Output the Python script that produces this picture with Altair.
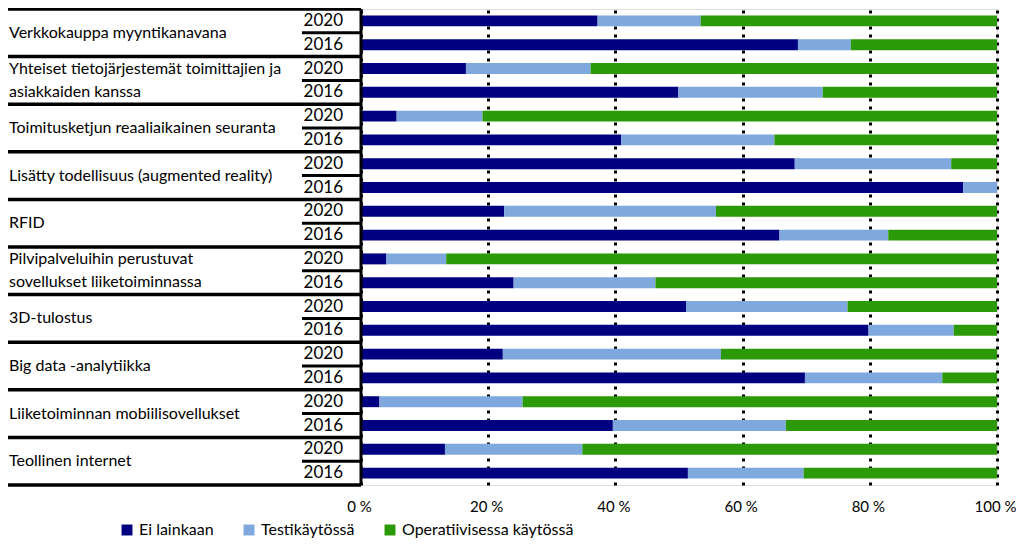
import altair as alt
import pandas as pd

categories = [
    ["Verkkokauppa myyntikanavana"],
    ["Yhteiset tietojärjestemät toimittajien ja", "asiakkaiden kanssa"],
    ["Toimitusketjun reaaliaikainen seuranta"],
    ["Lisätty todellisuus (augmented reality)"],
    ["RFID"],
    ["Pilvipalveluihin perustuvat", "sovellukset liiketoiminnassa"],
    ["3D-tulostus"],
    ["Big data -analytiikka"],
    ["Liiketoiminnan mobiilisovellukset"],
    ["Teollinen internet"],
]
years = ["2020", "2016"]
series = ["Ei lainkaan", "Testikäytössä", "Operatiivisessa käytössä"]
colors = ["#000080", "#7FA8DE", "#2C9A08"]

# values in %, rows in order: cat1 2020, cat1 2016, cat2 2020, ...
ei = [37.2, 68.7, 16.5, 49.9, 5.6, 40.9, 68.2, 94.7, 22.5, 65.8,
      4.0, 24.0, 51.1, 79.8, 22.3, 69.8, 2.9, 39.6, 13.2, 51.4]
testi = [16.2, 8.3, 19.6, 22.7, 13.5, 24.1, 24.6, 5.3, 33.3, 17.1,
         9.4, 22.3, 25.4, 13.4, 34.3, 21.6, 22.5, 27.2, 21.6, 18.2]
oper = [46.6, 23.0, 63.9, 27.4, 80.9, 35.0, 7.2, 0.0, 44.2, 17.1,
        86.6, 53.7, 23.5, 6.8, 43.4, 8.6, 74.6, 33.2, 65.2, 30.4]
x_ticks = [0, 20, 40, 60, 80, 100]

FONT = "Lato"

# ---- bar data
keys = []
rows = []
for ci in range(len(categories)):
    for yi, yr in enumerate(years):
        r = ci * 2 + yi
        key = f"{ci}-{yr}"
        keys.append(key)
        for si, (s, vals) in enumerate(zip(series, [ei, testi, oper])):
            rows.append({"key": key, "status": s, "order": si, "value": vals[r]})
bars_df = pd.DataFrame(rows)

bars = alt.Chart(bars_df).mark_bar().encode(
    x=alt.X("value:Q", stack="zero",
            scale=alt.Scale(domain=[0, 100], nice=False),
            axis=alt.Axis(values=x_ticks, labelExpr="datum.value + ' %'", title=None,
                          domain=False, ticks=False, grid=True, gridColor="black",
                          gridDash=[3, 5], gridWidth=3, gridOpacity=1,
                          labelFont=FONT, labelFontSize=15, labelColor="black",
                          labelFlush=False, labelPadding=14, labelOffset=-2)),
    y=alt.Y("key:N", sort=keys, axis=None,
            scale=alt.Scale(paddingInner=0.54, paddingOuter=0.27)),
    color=alt.Color("status:N", scale=alt.Scale(domain=series, range=colors),
                    legend=alt.Legend(orient="none", legendX=-242, legendY=513,
                                      direction="horizontal", title=None,
                                      symbolType="square", symbolSize=120,
                                      symbolStrokeWidth=0, symbolOpacity=1,
                                      labelFont=FONT, labelFontSize=16,
                                      labelColor="black", columnPadding=27,
                                      labelLimit=400, labelOffset=4, padding=0)),
    order=alt.Order("order:Q"),
)

# ---- left table (category / year grid)
yq = alt.Scale(domain=[0, 20], reverse=True, nice=False, zero=False)

cat_lines = pd.DataFrame({"pos": [2 * i for i in range(len(categories) + 1)]})
year_lines = pd.DataFrame({"pos": [2 * i + 1 for i in range(len(categories))]})
vline = pd.DataFrame({"a": [0], "b": [20]})

lab_rows = []
for ci, lines in enumerate(categories):
    n = len(lines)
    for j, ln in enumerate(lines):
        lab_rows.append({"pos": 2 * ci + 1 + (j - (n - 1) / 2) * 0.96, "label": ln})
cat_text = pd.DataFrame(lab_rows)
year_text = pd.DataFrame({"pos": [i + 0.5 for i in range(2 * len(categories))],
                          "label": [years[i % 2] for i in range(2 * len(categories))]})

cat_rules = alt.Chart(cat_lines).mark_rule(color="black", strokeWidth=3.5).encode(
    y=alt.Y("pos:Q", scale=yq, axis=None),
    x=alt.value(-353), x2=alt.value(0))
year_rules = alt.Chart(year_lines).mark_rule(color="black", strokeWidth=3).encode(
    y=alt.Y("pos:Q", scale=yq, axis=None),
    x=alt.value(-59), x2=alt.value(0))
axis_line = alt.Chart(vline).mark_rule(color="black", strokeWidth=3).encode(
    y=alt.Y("a:Q", scale=yq, axis=None), y2="b:Q", x=alt.value(0))
cat_labels = alt.Chart(cat_text).mark_text(
    align="left", baseline="middle", font=FONT, fontSize=16, color="black").encode(
    y=alt.Y("pos:Q", scale=yq, axis=None), x=alt.value(-352), text="label:N")
year_labels = alt.Chart(year_text).mark_text(
    align="right", baseline="middle", font=FONT, fontSize=17, color="black").encode(
    y=alt.Y("pos:Q", scale=yq, axis=None), x=alt.value(-18), text="label:N")

table = alt.layer(cat_rules, year_rules, cat_labels, year_labels, axis_line)

chart = alt.layer(bars, table).resolve_scale(y="independent").properties(
    width=636, height=476,
    autosize=alt.AutoSizeParams(type="none"),
    padding={"left": 353, "top": 1, "right": 19, "bottom": 56},
).configure_view(stroke=None).configure(font=FONT)

chart.save("out.html", embed_options={"renderer": "svg", "actions": False})
